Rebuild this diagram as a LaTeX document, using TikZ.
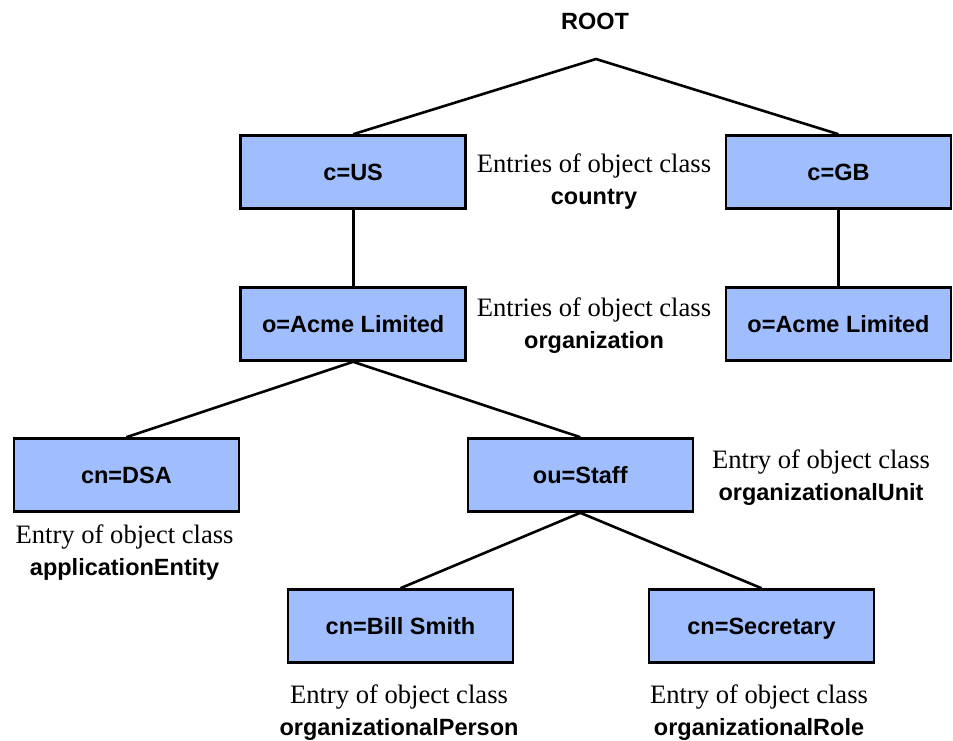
\documentclass[tikz,border=0pt]{standalone}
\usepackage{fontspec}
\setmainfont{Liberation Serif}
\setsansfont{Liberation Sans}
\definecolor{entryblue}{RGB}{160,189,253}
\newcommand{\objcls}[1]{{\sffamily\bfseries\fontsize{23.5}{32}\selectfont #1}}
\tikzset{
    entry/.style={draw, fill=entryblue, line width=2.6pt,
        minimum width=225pt, minimum height=73pt, inner sep=0pt,
        text height=16.8pt, text depth=0pt,
        font=\sffamily\bfseries\fontsize{23.5}{28}\selectfont},
    classnote/.style={align=center, inner sep=0pt, font=\fontsize{26.6}{32}\selectfont},
    link/.style={line width=2.6pt}
}

\begin{document}
\begin{tikzpicture}[x=1pt,y=-1pt]
\useasboundingbox (0,0) rectangle (953,740);
\node[inner sep=0pt, font=\sffamily\bfseries\fontsize{23.5}{28}\selectfont] (root) at (595,21) {ROOT};
\coordinate (top) at (596,59);
% entries
\node[entry] (cUS) at (353.2,172) {c=US};
\node[entry] (cGB) at (838.5,172) {c=GB};
\node[entry] (oAcmeUS) at (353.2,324) {o=Acme Limited};
\node[entry] (oAcmeGB) at (838.5,324) {o=Acme Limited};
\node[entry] (cnDSA) at (126.4,475) {cn=DSA};
\node[entry] (ouStaff) at (580.3,475) {ou=Staff};
\node[entry] (cnSmith) at (400.5,626) {cn=Bill Smith};
\node[entry] (cnSecretary) at (761.5,626) {cn=Secretary};
% object classes
\node[classnote] (noteCountry) at (594,181.4) {Entries of object class\\\objcls{country}};
\node[classnote] (noteOrg) at (594,325.8) {Entries of object class\\\objcls{organization}};
\node[classnote] (noteUnit) at (821,477.4) {Entry of object class\\\objcls{organizationalUnit}};
\node[classnote] (noteApp) at (124.6,552.4) {Entry of object class\\\objcls{applicationEntity}};
\node[classnote] (notePerson) at (399,712.4) {Entry of object class\\\objcls{organizationalPerson}};
\node[classnote] (noteRole) at (759,712.4) {Entry of object class\\\objcls{organizationalRole}};
% tree
\draw[link] (cUS.north) -- (top) -- (cGB.north);
\draw[link] (cUS.south) -- (oAcmeUS.north);
\draw[link] (cGB.south) -- (oAcmeGB.north);
\draw[link] (cnDSA.north) -- (oAcmeUS.south) -- (ouStaff.north);
\draw[link] (cnSmith.north) -- (ouStaff.south) -- (cnSecretary.north);
\end{tikzpicture}
\end{document}
